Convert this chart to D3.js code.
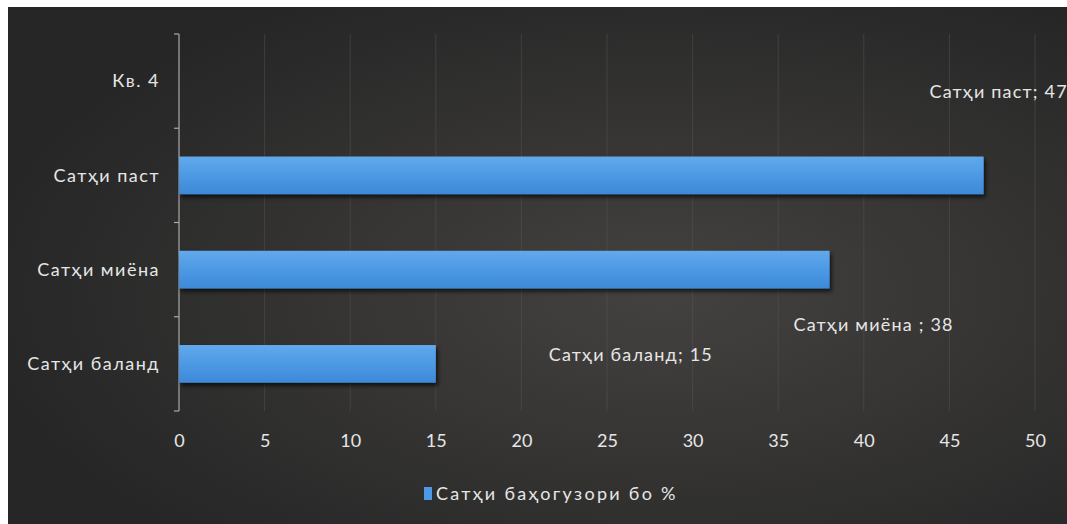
<!DOCTYPE html>
<html>
<head>
<meta charset="utf-8">
<script src="https://cdn.jsdelivr.net/npm/d3@7"></script>
<style>
  body { margin: 0; background: #fff; }
  text { font-family: Lato, "Open Sans", sans-serif; }
</style>
</head>
<body>
<div id="chart"></div>
<script>
const categories = ["Кв. 4", "Сатҳи паст", "Сатҳи миёна", "Сатҳи баланд"];
const values = [null, 47, 38, 15];
const dataLabels = [null, "Сатҳи паст; 47", "Сатҳи миёна ; 38", "Сатҳи баланд; 15"];
const xTicks = [0, 5, 10, 15, 20, 25, 30, 35, 40, 45, 50];
const legendLabel = "Сатҳи баҳогузори бо %";
// where Excel dropped the data labels (offset from bar end / band centre)
const labelOffsets = [null, [15, -84], [44, 55], [195, -9]];

const width = 1067, height = 524;
const svg = d3.select("#chart").append("svg").attr("width", width).attr("height", height);
const defs = svg.append("defs");

const bg = defs.append("radialGradient").attr("id", "bg").attr("cx", "62%").attr("cy", "55%").attr("r", "65%");
bg.append("stop").attr("offset", "0%").attr("stop-color", "#444240");
bg.append("stop").attr("offset", "100%").attr("stop-color", "#262626");

const barGrad = defs.append("linearGradient").attr("id", "bar").attr("x1", 0).attr("x2", 0).attr("y1", 0).attr("y2", 1);
barGrad.append("stop").attr("offset", "0%").attr("stop-color", "#62a9ec");
barGrad.append("stop").attr("offset", "50%").attr("stop-color", "#4d99e4");
barGrad.append("stop").attr("offset", "100%").attr("stop-color", "#3d89d8");

const shadow = defs.append("filter").attr("id", "shadow").attr("x", "-5%").attr("y", "-20%").attr("width", "115%").attr("height", "160%");
shadow.append("feDropShadow").attr("dx", 2).attr("dy", 3).attr("stdDeviation", 2).attr("flood-color", "#000").attr("flood-opacity", 0.7);

svg.append("rect").attr("x", 8).attr("y", 7).attr("width", width - 8).attr("height", height - 7).attr("fill", "url(#bg)");

const x = d3.scaleLinear().domain([0, 50]).range([179, 1035]);
const y = d3.scaleBand().domain(categories).range([34, 411]).paddingInner(0.6).paddingOuter(0.3);

// grid
svg.append("g").selectAll("line").data(xTicks.slice(1)).enter().append("line")
  .attr("x1", d => x(d)).attr("x2", d => x(d))
  .attr("y1", 34).attr("y2", 411)
  .attr("stroke", "#5a5856").attr("stroke-width", 1).attr("opacity", 0.45);

// y axis line with ticks on band boundaries
const yAxisG = svg.append("g");
yAxisG.append("line").attr("x1", 179).attr("x2", 179).attr("y1", 34).attr("y2", 411)
  .attr("stroke", "#a9a9a9").attr("stroke-width", 1.2);
const bounds = d3.range(categories.length + 1).map(i => 34 + i * y.step());
yAxisG.selectAll(".tk").data(bounds).enter().append("line")
  .attr("x1", 174).attr("x2", 179).attr("y1", d => d).attr("y2", d => d)
  .attr("stroke", "#a9a9a9").attr("stroke-width", 1.2);
yAxisG.selectAll("text").data(categories).enter().append("text")
  .attr("x", 160).attr("y", d => y(d) + y.bandwidth() / 2)
  .attr("dy", "0.35em").attr("text-anchor", "end")
  .attr("fill", "#e6e6e6").attr("font-size", 18).attr("letter-spacing", 1.5).text(d => d);

// x axis labels
const xAxis = d3.axisBottom(x).tickValues(xTicks).tickSize(0).tickPadding(0);
const xg = svg.append("g").attr("transform", "translate(0,434)").call(xAxis);
xg.select(".domain").remove();
xg.selectAll("text").attr("fill", "#e6e6e6").attr("font-size", 18)
  .style("font-family", "Lato, 'Open Sans', sans-serif");

// bars
const rows = categories.map((c, i) => ({ c, v: values[i], label: dataLabels[i], off: labelOffsets[i] }));
svg.append("g").selectAll("rect").data(rows.filter(d => d.v != null)).enter().append("rect")
  .attr("x", x(0)).attr("y", d => y(d.c))
  .attr("width", d => x(d.v) - x(0)).attr("height", y.bandwidth())
  .attr("fill", "url(#bar)").attr("filter", "url(#shadow)");

// data labels
svg.append("g").selectAll("text").data(rows.filter(d => d.label)).enter().append("text")
  .attr("x", d => x(d.v) + d.off[0])
  .attr("y", d => y(d.c) + y.bandwidth() / 2 + d.off[1])
  .attr("dy", "0.35em").attr("text-anchor", "middle")
  .attr("fill", "#e6e6e6").attr("font-size", 18).attr("letter-spacing", 1.2)
  .text(d => d.label);

// legend
const lg = svg.append("g").attr("transform", "translate(424,494)");
lg.append("rect").attr("x", 0).attr("y", -7).attr("width", 8).attr("height", 13).attr("fill", "#4d99e4");
lg.append("text").attr("x", 12).attr("y", 0).attr("dy", "0.35em")
  .attr("fill", "#e6e6e6").attr("font-size", 18).attr("letter-spacing", 2.3).text(legendLabel);
</script>
</body>
</html>
